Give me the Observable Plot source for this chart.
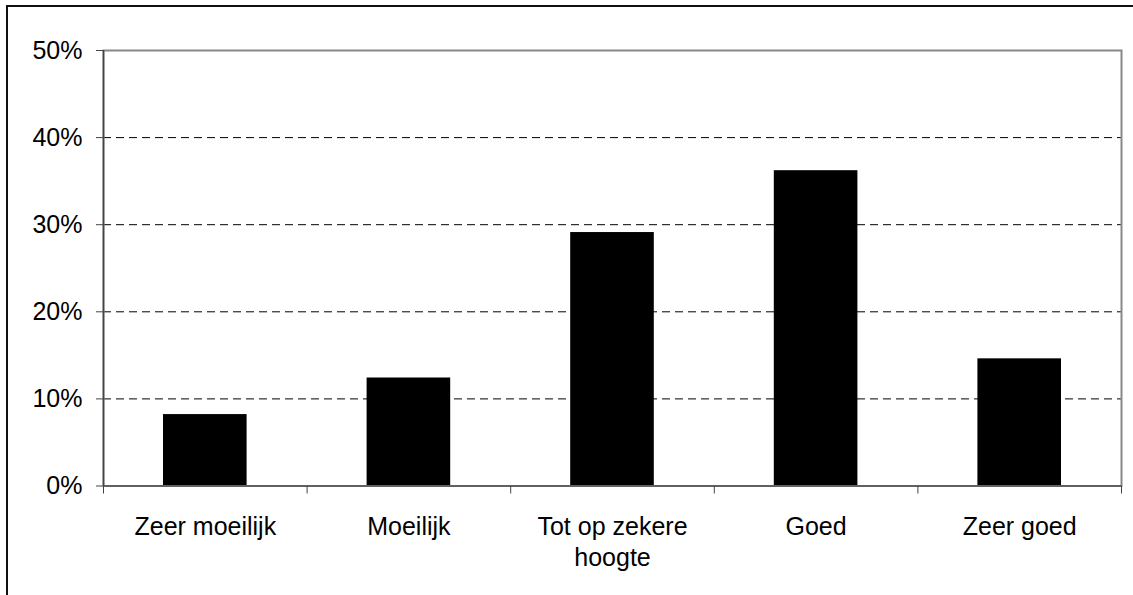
<!DOCTYPE html>
<html>
<head>
<meta charset="utf-8">
<script src="https://cdn.jsdelivr.net/npm/d3@7"></script>
<script src="https://cdn.jsdelivr.net/npm/@observablehq/plot@0.6"></script>
<style>
  html, body { margin: 0; padding: 0; background: #fff; overflow: hidden; }
  #wrap { position: relative; width: 1133px; height: 595px; overflow: hidden; }
  #border { position: absolute; left: 6px; top: 5px; width: 1300px; height: 800px; border: 2px solid #111; }
  #chart { position: absolute; left: 0; top: 0; }
  #chart svg { background: transparent !important; }
</style>
</head>
<body>
<div id="wrap"><div id="border"></div><div id="chart"></div></div>
<script>
const categories = ["Zeer moeilijk", "Moeilijk", "Tot op zekere hoogte", "Goed", "Zeer goed"];
const tickLabels = ["Zeer moeilijk", "Moeilijk", "Tot op zekere\nhoogte", "Goed", "Zeer goed"];
const values = [8.2, 12.4, 29.1, 36.2, 14.6];
const yTicks = [0, 10, 20, 30, 40, 50];
const gridValues = [10, 20, 30, 40];

const data = categories.map((c, i) => ({category: c, index: i, value: values[i]}));
const boundaries = d3.range(categories.length + 1);
const centers = categories.map((c, i) => i + 0.5);

const chart = Plot.plot({
  width: 1133,
  height: 595,
  marginLeft: 103,
  marginRight: 12,
  marginTop: 50,
  marginBottom: 109.5,
  style: {fontFamily: "'Liberation Sans', Arial, sans-serif", fontSize: "25px", color: "#000", background: "transparent"},
  x: {type: "linear", domain: [0, categories.length], axis: null, label: null},
  y: {domain: [0, 50], axis: null, label: null},
  marks: [
    Plot.ruleY(gridValues, {stroke: "#000", strokeWidth: 1, strokeDasharray: "8,5"}),
    Plot.rectY(data, {x1: "index", x2: d => d.index + 1, y: "value", insetLeft: 60, insetRight: 60, fill: "#000"}),
    Plot.frame({stroke: "#888", strokeWidth: 2}),
    Plot.ruleX([0], {stroke: "#444", strokeWidth: 1.5}),
    Plot.ruleY([0], {stroke: "#555", strokeWidth: 1.5}),
    Plot.axisY({ticks: yTicks, tickSize: 7, tickPadding: 14, tickFormat: d => d + "%", stroke: "#444", fontSize: 25, fill: "#000", label: null}),
    Plot.axisX({ticks: boundaries, tickSize: 8, tickFormat: () => "", stroke: "#444", label: null}),
    Plot.axisX({ticks: centers, tickSize: 0, tickPadding: 27, tickFormat: (d) => tickLabels[Math.floor(d)], fontSize: 25, lineHeight: 1.24, fill: "#000", label: null})
  ]
});
document.getElementById("chart").appendChild(chart);
</script>
</body>
</html>
